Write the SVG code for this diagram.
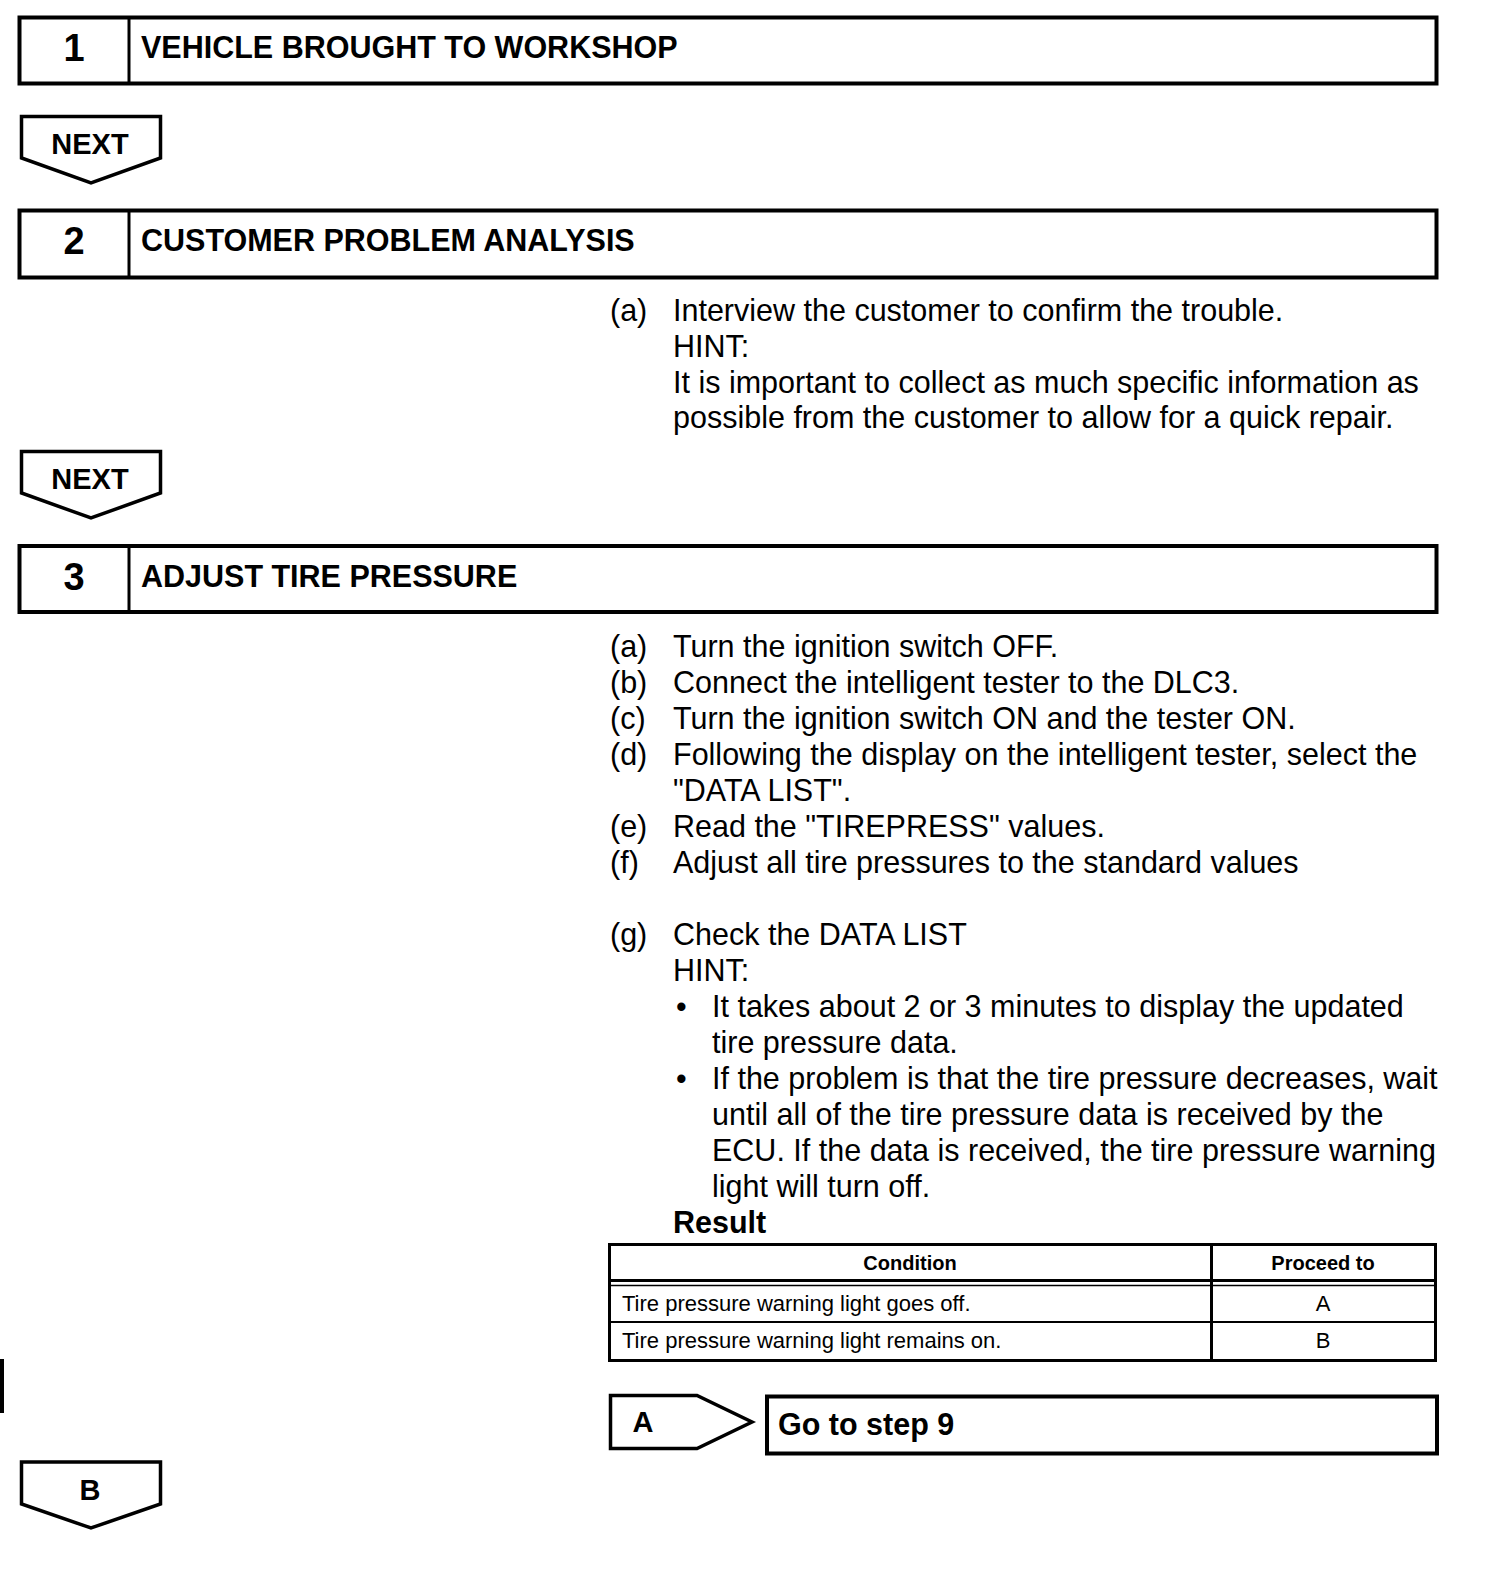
<svg xmlns="http://www.w3.org/2000/svg" width="1504" height="1584" viewBox="0 0 1504 1584">
<style>
.box{fill:#fff;stroke:#000;stroke-width:4}
.arr{fill:#fff;stroke:#000;stroke-width:3.5;stroke-linejoin:miter}
.num{font-family:"Liberation Sans",Arial,sans-serif;font-weight:bold;font-size:38px;text-anchor:middle}
.hd{font-family:"Liberation Sans",Arial,sans-serif;font-weight:bold;font-size:30.5px}
.nx{font-family:"Liberation Sans",Arial,sans-serif;font-weight:bold;font-size:29px;text-anchor:middle}
.t{font-family:"Liberation Sans",Arial,sans-serif;font-size:30.5px}
.tb{font-family:"Liberation Sans",Arial,sans-serif;font-size:22px}
.tbb{font-family:"Liberation Sans",Arial,sans-serif;font-size:20px;font-weight:bold;text-anchor:middle}
.c{text-anchor:middle}
.tl{stroke:#000;fill:none}
</style>
<rect width="1504" height="1584" fill="#fff"/>

<g id="step1">
<rect class="box" x="19.5" y="17.5" width="1417" height="66"/>
<line class="tl" x1="129" y1="17.5" x2="129" y2="83.5" stroke-width="3"/>
<text class="num" x="74" y="61">1</text>
<text class="hd" x="141" y="58">VEHICLE BROUGHT TO WORKSHOP</text>
</g>

<g id="step2">
<rect class="box" x="19.5" y="210.5" width="1417" height="67"/>
<line class="tl" x1="129" y1="210.5" x2="129" y2="277.5" stroke-width="3"/>
<text class="num" x="74" y="254">2</text>
<text class="hd" x="141" y="251">CUSTOMER PROBLEM ANALYSIS</text>
</g>

<g id="step2-text">
<text class="t" x="610" y="321">(a)</text>
<text class="t" x="673" y="321">Interview the customer to confirm the trouble.</text>
<text class="t" x="673" y="357">HINT:</text>
<text class="t" x="673" y="393">It is important to collect as much specific information as</text>
<text class="t" x="673" y="428">possible from the customer to allow for a quick repair.</text>
</g>

<g id="step3">
<rect class="box" x="19.5" y="546" width="1417" height="66"/>
<line class="tl" x1="129" y1="546" x2="129" y2="612" stroke-width="3"/>
<text class="num" x="74" y="590">3</text>
<text class="hd" x="141" y="587">ADJUST TIRE PRESSURE</text>
</g>

<g id="step3-text">
<text class="t" x="610" y="657">(a)</text><text class="t" x="673" y="657">Turn the ignition switch OFF.</text>
<text class="t" x="610" y="693">(b)</text><text class="t" x="673" y="693">Connect the intelligent tester to the DLC3.</text>
<text class="t" x="610" y="729">(c)</text><text class="t" x="673" y="729">Turn the ignition switch ON and the tester ON.</text>
<text class="t" x="610" y="765">(d)</text><text class="t" x="673" y="765">Following the display on the intelligent tester, select the</text>
<text class="t" x="673" y="801">"DATA LIST".</text>
<text class="t" x="610" y="837">(e)</text><text class="t" x="673" y="837">Read the "TIREPRESS" values.</text>
<text class="t" x="610" y="873">(f)</text><text class="t" x="673" y="873">Adjust all tire pressures to the standard values</text>
<text class="t" x="610" y="945">(g)</text><text class="t" x="673" y="945">Check the DATA LIST</text>
<text class="t" x="673" y="981">HINT:</text>
<text class="t" x="676" y="1017">•</text><text class="t" x="712" y="1017">It takes about 2 or 3 minutes to display the updated</text>
<text class="t" x="712" y="1053">tire pressure data.</text>
<text class="t" x="676" y="1089">•</text><text class="t" x="712" y="1089">If the problem is that the tire pressure decreases, wait</text>
<text class="t" x="712" y="1125">until all of the tire pressure data is received by the</text>
<text class="t" x="712" y="1161">ECU. If the data is received, the tire pressure warning</text>
<text class="t" x="712" y="1197">light will turn off.</text>
<text class="t" x="673" y="1233" font-weight="bold">Result</text>
</g>

<g id="result-table">
<rect x="609.5" y="1244.5" width="826" height="116" fill="#fff" stroke="#000" stroke-width="3"/>
<line class="tl" x1="609.5" y1="1280.5" x2="1435.5" y2="1280.5" stroke-width="3"/>
<line class="tl" x1="609.5" y1="1285.5" x2="1435.5" y2="1285.5" stroke-width="1.5"/>
<line class="tl" x1="609.5" y1="1322" x2="1435.5" y2="1322" stroke-width="2"/>
<line class="tl" x1="1211.5" y1="1244.5" x2="1211.5" y2="1360.5" stroke-width="3"/>
<text class="tbb" x="910" y="1270">Condition</text>
<text class="tbb" x="1323" y="1270">Proceed to</text>
<text class="tb" x="622" y="1311">Tire pressure warning light goes off.</text>
<text class="tb c" x="1323" y="1311">A</text>
<text class="tb" x="622" y="1348">Tire pressure warning light remains on.</text>
<text class="tb c" x="1323" y="1348">B</text>
</g>

<g id="goto-step9">
<rect class="box" x="767" y="1396.5" width="670" height="57"/>
<text class="hd" x="778" y="1435">Go to step 9</text>
</g>

<g id="connectors">
<g id="next1">
<path class="arr" d="M21.5,116.5 H160.5 V158 L91,183 L21.5,158 Z"/>
<text class="nx" x="90" y="154">NEXT</text>
</g>
<g id="next2">
<path class="arr" d="M21.5,451.5 H160.5 V493 L91,518 L21.5,493 Z"/>
<text class="nx" x="90" y="489">NEXT</text>
</g>
<g id="branchA">
<path class="arr" d="M610.5,1395.5 H697 L752,1422 L697,1448.5 H610.5 Z"/>
<text class="nx" x="643" y="1432">A</text>
</g>
<g id="branchB">
<path class="arr" d="M21.5,1462 H160.5 V1504 L91,1528 L21.5,1504 Z"/>
<text class="nx" x="90" y="1500">B</text>
</g>
</g>

<line x1="2" y1="1359" x2="2" y2="1413" stroke="#000" stroke-width="4"/>
</svg>
